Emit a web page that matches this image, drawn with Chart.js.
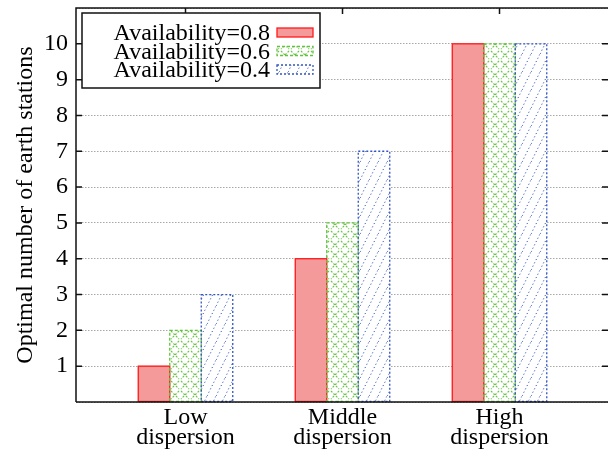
<!DOCTYPE html>
<html><head><meta charset="utf-8">
<script src="https://cdn.jsdelivr.net/npm/chart.js@4/dist/chart.umd.min.js"></script>
<style>html,body{margin:0;padding:0;background:#fff;} canvas{display:block;}</style>
</head><body>
<canvas id="c" width="608" height="450"></canvas>
<script>
const categories = [['Low','dispersion'],['Middle','dispersion'],['High','dispersion']];
const seriesLabels = ['Availability=0.8','Availability=0.6','Availability=0.4'];
const avail08 = [1, 4, 10];
const avail06 = [2, 5, 10];
const avail04 = [3, 7, 10];
const yTickValues = [1,2,3,4,5,6,7,8,9,10];
const yAxisTitle = 'Optimal number of earth stations';

const FONT = '"Liberation Serif", "Times New Roman", serif';
const canvas = document.getElementById('c');
const ctx0 = canvas.getContext('2d');

function crossPattern(color){
  const t = document.createElement('canvas'); t.width = 10; t.height = 10;
  const g = t.getContext('2d');
  g.fillStyle = '#fff'; g.fillRect(0,0,10,10);
  g.strokeStyle = color; g.lineWidth = 1.2; g.setLineDash([2,1.5]);
  g.beginPath(); g.moveTo(1,1); g.lineTo(9,9); g.moveTo(9,1); g.lineTo(1,9); g.stroke();
  return ctx0.createPattern(t,'repeat');
}
function diagPattern(color){
  const t = document.createElement('canvas'); t.width = 9; t.height = 18;
  const g = t.getContext('2d');
  g.fillStyle = '#fff'; g.fillRect(0,0,9,18);
  g.strokeStyle = color; g.lineWidth = 1; g.setLineDash([1.2,2.5]);
  g.beginPath(); g.moveTo(0,18); g.lineTo(9,0); g.stroke();
  return ctx0.createPattern(t,'repeat');
}

const toPts = arr => arr.map((v,i) => ({x:i, y:v}));

const overlay = {
  id: 'overlay',
  afterDatasetsDraw(chart){
    const ctx = chart.ctx, a = chart.chartArea;
    const xs = chart.scales.x, ys = chart.scales.y;
    chart.data.datasets.forEach((ds,di) => {
      const meta = chart.getDatasetMeta(di);
      ctx.save();
      ctx.strokeStyle = ds.borderColor; ctx.lineWidth = 1.3; ctx.setLineDash(ds.lineDash || []);
      meta.data.forEach(el => {
        const p = el.getProps(['x','y','base','width'], true);
        ctx.strokeRect(p.x - p.width/2, p.y, p.width, p.base - p.y);
      });
      ctx.restore();
    });
    // frame and inward ticks
    ctx.save();
    ctx.strokeStyle = '#111'; ctx.lineWidth = 1.5; ctx.setLineDash([]);
    ctx.beginPath();
    ctx.moveTo(a.left, a.bottom); ctx.lineTo(a.left, a.top); ctx.lineTo(a.right, a.top);
    ctx.moveTo(a.left, a.bottom); ctx.lineTo(a.right, a.bottom);
    yTickValues.forEach(v => {
      const py = ys.getPixelForValue(v);
      ctx.moveTo(a.left, py); ctx.lineTo(a.left + 6, py);
      ctx.moveTo(a.right, py); ctx.lineTo(a.right - 6, py);
    });
    categories.forEach((c,i) => {
      const px = xs.getPixelForValue(i);
      ctx.moveTo(px, a.top); ctx.lineTo(px, a.top + 6);
    });
    ctx.stroke();
    ctx.restore();
    // legend
    const bx = a.left + 6, by = a.top + 5, bw = 238, bh = 75;
    ctx.save();
    ctx.fillStyle = '#fff'; ctx.fillRect(bx, by, bw, bh);
    ctx.strokeStyle = '#111'; ctx.lineWidth = 1.5; ctx.strokeRect(bx, by, bw, bh);
    ctx.font = '24px ' + FONT; ctx.fillStyle = '#000';
    ctx.textAlign = 'right'; ctx.textBaseline = 'alphabetic';
    const baselines = [27, 45.5, 64];
    chart.data.datasets.forEach((ds,di) => {
      const yb = by + baselines[di];
      ctx.fillStyle = '#000';
      ctx.fillText(ds.label, bx + 188, yb);
      const sx = bx + 195, sy = yb - 12, sw = 36, sh = 9;
      ctx.fillStyle = ds.backgroundColor; ctx.fillRect(sx, sy, sw, sh);
      ctx.strokeStyle = ds.borderColor; ctx.lineWidth = 1.3; ctx.setLineDash(ds.lineDash || []);
      ctx.strokeRect(sx, sy, sw, sh);
      ctx.setLineDash([]);
    });
    ctx.restore();
  }
};

new Chart(canvas, {
  type: 'bar',
  data: {
    datasets: [
      {label: seriesLabels[0], data: toPts(avail08), backgroundColor: '#f59a9a', borderColor: '#ff1a1a', borderWidth: 0, lineDash: []},
      {label: seriesLabels[1], data: toPts(avail06), backgroundColor: crossPattern('#6cc448'), borderColor: '#62c23e', borderWidth: 0, lineDash: [3,2]},
      {label: seriesLabels[2], data: toPts(avail04), backgroundColor: diagPattern('#3a5cc4'), borderColor: '#3355c0', borderWidth: 0, lineDash: [2,2]}
    ]
  },
  options: {
    responsive: false, animation: false, devicePixelRatio: 1,
    layout: {padding: {top: 8, left: 0, right: 0, bottom: 0}},
    plugins: {legend: {display: false}, tooltip: {enabled: false}},
    datasets: {bar: {barThickness: 31.5, grouped: true}},
    scales: {
      x: {
        type: 'linear', min: -0.6975, max: 2.691, offset: false,
        afterBuildTicks: s => { s.ticks = categories.map((c,i) => ({value: i})); },
        afterFit: s => { s.height = 48; s.paddingLeft = 0; s.paddingRight = 0; },
        grid: {display: false}, border: {display: false},
        ticks: {autoSkip: false, maxRotation: 0, padding: -3, color: '#000',
          font: {family: FONT, size: 24, lineHeight: 0.86},
          callback: v => categories[v] || ''}
      },
      y: {
        min: 0, max: 11,
        afterBuildTicks: s => { s.ticks = [0, ...yTickValues, 11].map(v => ({value: v})); },
        afterFit: s => { s.width = 76; s.paddingTop = 0; s.paddingBottom = 0; },
        grid: {color: '#a8a8a8', lineWidth: 1, drawTicks: false},
        border: {display: false, dash: [1.5,1.5]},
        ticks: {padding: 8, color: '#000', font: {family: FONT, size: 24},
          callback: v => yTickValues.includes(v) ? String(v) : ''},
        title: {display: true, text: yAxisTitle, color: '#000',
          font: {family: FONT, size: 24}, padding: {top: 11, bottom: 0}}
      }
    }
  },
  plugins: [overlay]
});
</script>
</body></html>
